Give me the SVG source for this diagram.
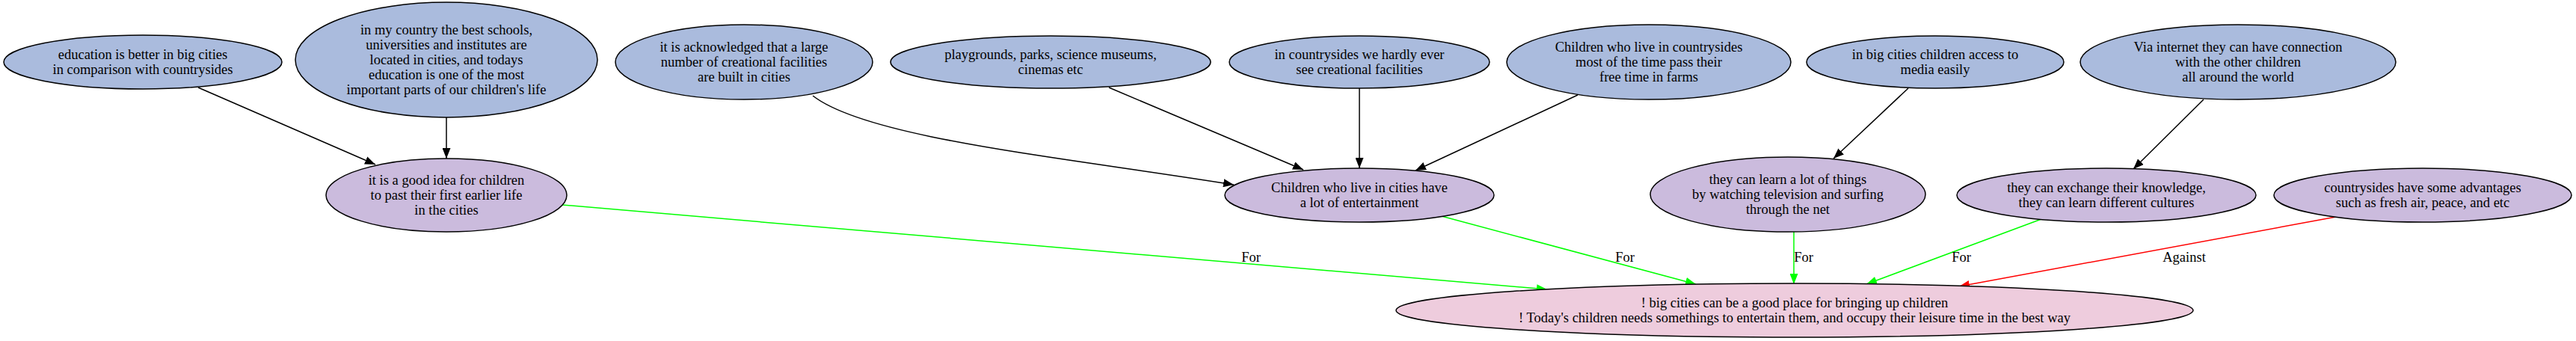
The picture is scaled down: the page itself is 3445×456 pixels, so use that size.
<svg xmlns="http://www.w3.org/2000/svg" width="3445" height="456" viewBox="0 0 3445 456">
<style>
.n ellipse{stroke:#000;stroke-width:1.5}
.b ellipse{fill:#aabbdd}
.p ellipse{fill:#cbbbdd}
.k ellipse{fill:#eeccdd}
text{font-family:"Liberation Serif","Times New Roman",serif;font-size:18.5px;fill:#000;text-anchor:middle}
.e path{fill:none;stroke-width:1.5}
.blk{stroke:#000}
.grn{stroke:#00ff00}
.red{stroke:#ff0000}
</style>
<defs>
<marker id="ak" viewBox="0 0 14 11" refX="14" refY="5.5" markerWidth="14" markerHeight="11" orient="auto" markerUnits="userSpaceOnUse"><path d="M0,0 L14,5.5 L0,11 z" fill="#000"/></marker>
<marker id="ag" viewBox="0 0 14 11" refX="14" refY="5.5" markerWidth="14" markerHeight="11" orient="auto" markerUnits="userSpaceOnUse"><path d="M0,0 L14,5.5 L0,11 z" fill="#00ff00"/></marker>
<marker id="ar" viewBox="0 0 14 11" refX="14" refY="5.5" markerWidth="14" markerHeight="11" orient="auto" markerUnits="userSpaceOnUse"><path d="M0,0 L14,5.5 L0,11 z" fill="#ff0000"/></marker>
</defs>
<rect width="3445" height="456" fill="#fff"/>
<g id="connectors" class="e">
<path class="blk" d="M265,117 L502,220" marker-end="url(#ak)"/>
<path class="blk" d="M597,157 L597,212" marker-end="url(#ak)"/>
<path class="blk" d="M1087,128 C1160,185 1420,210 1650,247" marker-end="url(#ak)"/>
<path class="blk" d="M1483,117 L1743,227" marker-end="url(#ak)"/>
<path class="blk" d="M1818,118 L1818,225" marker-end="url(#ak)"/>
<path class="blk" d="M2110,127 L1893,228" marker-end="url(#ak)"/>
<path class="blk" d="M2552,118 L2452,212" marker-end="url(#ak)"/>
<path class="blk" d="M2947,133 L2853,226" marker-end="url(#ak)"/>
<path class="grn" d="M752,274 L2069,387" marker-end="url(#ag)"/>
<path class="grn" d="M1924,288 L2268,380" marker-end="url(#ag)"/>
<path class="grn" d="M2399,310 L2399,380" marker-end="url(#ag)"/>
<path class="grn" d="M2730,293 L2496,380" marker-end="url(#ag)"/>
<path class="red" d="M3124,290 L2620,383" marker-end="url(#ar)"/>
<text x="1673" y="350">For</text>
<text x="2173" y="350">For</text>
<text x="2412" y="350">For</text>
<text x="2623" y="350">For</text>
<text x="2921" y="350">Against</text>
</g>
<g id="n1" class="n b"><ellipse cx="191" cy="83" rx="186" ry="36"/><text x="191" y="79">education is better in big cities</text><text x="191" y="99">in comparison with countrysides</text></g>
<g id="n2" class="n b"><ellipse cx="597" cy="80" rx="202" ry="77"/><text x="597" y="46">in my country the best schools,</text><text x="597" y="66">universities and institutes are</text><text x="597" y="86">located in cities, and todays</text><text x="597" y="106">education is one of the most</text><text x="597" y="126">important parts of our children's life</text></g>
<g id="n3" class="n p"><ellipse cx="597" cy="261" rx="161" ry="49"/><text x="597" y="247">it is a good idea for children</text><text x="597" y="267">to past their first earlier life</text><text x="597" y="287">in the cities</text></g>
<g id="n4" class="n b"><ellipse cx="995" cy="83" rx="172" ry="50"/><text x="995" y="69">it is acknowledged that a large</text><text x="995" y="89">number of creational facilities</text><text x="995" y="109">are built in cities</text></g>
<g id="n5" class="n b"><ellipse cx="1405" cy="83" rx="214" ry="35"/><text x="1405" y="79">playgrounds, parks, science museums,</text><text x="1405" y="99">cinemas etc</text></g>
<g id="n6" class="n b"><ellipse cx="1818" cy="83" rx="174" ry="35"/><text x="1818" y="79">in countrysides we hardly ever</text><text x="1818" y="99">see creational facilities</text></g>
<g id="n7" class="n b"><ellipse cx="2205" cy="83" rx="190" ry="50"/><text x="2205" y="69">Children who live in countrysides</text><text x="2205" y="89">most of the time pass their</text><text x="2205" y="109">free time in farms</text></g>
<g id="n8" class="n b"><ellipse cx="2588" cy="83" rx="172" ry="35"/><text x="2588" y="79">in big cities children access to</text><text x="2588" y="99">media easily</text></g>
<g id="n9" class="n b"><ellipse cx="2993" cy="83" rx="211" ry="50"/><text x="2993" y="69">Via internet they can have connection</text><text x="2993" y="89">with the other children</text><text x="2993" y="109">all around the world</text></g>
<g id="n10" class="n p"><ellipse cx="1818" cy="261" rx="180" ry="36"/><text x="1818" y="257">Children who live in cities have</text><text x="1818" y="277">a lot of entertainment</text></g>
<g id="n11" class="n p"><ellipse cx="2391" cy="260" rx="184" ry="50"/><text x="2391" y="246">they can learn a lot of things</text><text x="2391" y="266">by watching television and surfing</text><text x="2391" y="286">through the net</text></g>
<g id="n12" class="n p"><ellipse cx="2817" cy="261" rx="200" ry="36"/><text x="2817" y="257">they can exchange their knowledge,</text><text x="2817" y="277">they can learn different cultures</text></g>
<g id="n13" class="n p"><ellipse cx="3240" cy="261" rx="199" ry="36"/><text x="3240" y="257">countrysides have some advantages</text><text x="3240" y="277">such as fresh air, peace, and etc</text></g>
<g id="n14" class="n k"><ellipse cx="2400" cy="415" rx="533" ry="36"/><text x="2400" y="411">! big cities can be a good place for bringing up children</text><text x="2400" y="431">! Today's children needs somethings to entertain them, and occupy their leisure time in the best way</text></g>
</svg>
